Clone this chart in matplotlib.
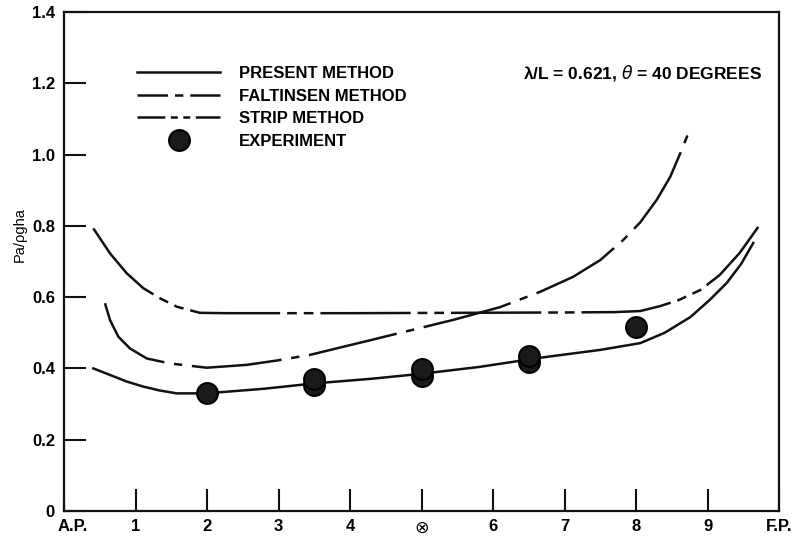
import numpy as np
import matplotlib
matplotlib.use('Agg')
import matplotlib.pyplot as plt
from matplotlib.lines import Line2D
from matplotlib.transforms import ScaledTranslation

plt.rcParams['font.family'] = ['Liberation Sans', 'DejaVu Sans']
plt.rcParams['lines.scale_dashes'] = False

# present method (solid)
present_x = [0.41, 0.64, 0.88, 1.11, 1.34, 1.58, 1.98, 2.8, 3.5, 4.3, 5.0, 5.8, 6.66, 7.5,
             8.06, 8.4, 8.76, 9.03, 9.27, 9.47, 9.64]
present_y = [0.40, 0.382, 0.363, 0.349, 0.338, 0.330, 0.330, 0.343, 0.358, 0.371, 0.385, 0.404,
             0.43, 0.452, 0.471, 0.50, 0.544, 0.592, 0.64, 0.693, 0.752]

# faltinsen method (dash-dot)
falt_x = [0.573, 0.643, 0.76, 0.923, 1.157, 1.48, 1.996, 2.555, 2.97, 3.44, 4.3, 5.44, 6.1,
          6.66, 7.12, 7.5, 7.82, 8.06, 8.29, 8.48, 8.62, 8.76]
falt_y = [0.583, 0.536, 0.489, 0.456, 0.428, 0.414, 0.402, 0.41, 0.422, 0.438, 0.48, 0.536, 0.572,
          0.615, 0.657, 0.704, 0.76, 0.81, 0.873, 0.938, 1.004, 1.074]

# strip method (dash-dot-dot)
strip_x = [0.41, 0.643, 0.877, 1.11, 1.34, 1.58, 1.9, 2.28, 4.0, 5.5, 7.0, 7.7, 8.06, 8.34,
           8.6, 8.9, 9.17, 9.45, 9.71]
strip_y = [0.793, 0.723, 0.667, 0.625, 0.597, 0.573, 0.556, 0.555, 0.555, 0.556, 0.557, 0.558,
           0.561, 0.575, 0.592, 0.62, 0.662, 0.724, 0.797]

# experiment
exp_x = [2.0, 3.5, 3.5, 5.0, 5.0, 6.5, 6.5, 8.0]
exp_y = [0.331, 0.354, 0.37, 0.378, 0.397, 0.418, 0.434, 0.516]

xticks = [0, 1, 2, 3, 4, 5, 6, 7, 8, 9, 10]
xlabels = ['A.P.', '1', '2', '3', '4', '\u2297', '6', '7', '8', '9', 'F.P.']
yticks = [0, 0.2, 0.4, 0.6, 0.8, 1.0, 1.2, 1.4]
ylabels = ['0', '0.2', '0.4', '0.6', '0.8', '1.0', '1.2', '1.4']

col = '#111111'
lw = 1.8
falt_dash = (0, (65, 7, 6, 7))
strip_dash = (0, (65, 5, 7, 5, 7, 5))

fig = plt.figure(figsize=(8.01, 5.36), dpi=100)
ax = fig.add_axes([64/801, 1-511/536, 715/801, 499/536])

ax.plot(present_x, present_y, color=col, lw=lw)
ax.plot(falt_x, falt_y, color=col, lw=lw, linestyle=falt_dash)
ax.plot(strip_x, strip_y, color=col, lw=lw, linestyle=strip_dash)
ax.plot(exp_x, exp_y, linestyle='none', marker='o', markersize=15,
        markerfacecolor='#1a1a1a', markeredgecolor='black', markeredgewidth=1.5, zorder=3)

ax.set_xlim(0, 10)
ax.set_ylim(0, 1.4)
ax.set_xticks(xticks)
ax.set_xticklabels(xlabels)
ax.set_yticks(yticks)
ax.set_yticklabels(ylabels)
ax.tick_params(direction='in', length=16, width=1.5, labelsize=12, color=col)
ax.tick_params(axis='y', pad=6.5)
ax.tick_params(axis='x', pad=6)
for lab in ax.get_xticklabels() + ax.get_yticklabels():
    lab.set_fontweight('bold')
mid = ax.get_xticklabels()[5]
mid.set_family('DejaVu Sans')
mid.set_fontsize(12.5)
mid.set_fontweight('normal')
ap = ax.get_xticklabels()[0]
ap.set_transform(ap.get_transform() + ScaledTranslation(9/100, 0, fig.dpi_scale_trans))
for sp in ax.spines.values():
    sp.set_linewidth(1.6)
    sp.set_color(col)

ax.set_ylabel('Pa/\u03c1gha', fontsize=10.5)
ax.yaxis.set_label_coords(-0.052, 0.553)

ax.text(0.976, 0.878, '\u03bb/L = 0.621, $\\theta$ = 40 DEGREES', transform=ax.transAxes,
        ha='right', va='center', fontsize=12.5, fontweight='bold')

handles = [
    Line2D([], [], color=col, lw=lw),
    Line2D([], [], color=col, lw=lw, linestyle=(0, (22, 5, 6, 5))),
    Line2D([], [], color=col, lw=lw, linestyle=(0, (20, 4, 5, 4, 5, 4))),
    Line2D([], [], linestyle='none', marker='o', markersize=15,
           markerfacecolor='#1a1a1a', markeredgecolor='black', markeredgewidth=1.5),
]
labels = ['PRESENT METHOD', 'FALTINSEN METHOD', 'STRIP METHOD', 'EXPERIMENT']
leg = ax.legend(handles, labels, loc='upper left', bbox_to_anchor=(0.093, 0.905),
                frameon=False, handlelength=5.0, handletextpad=1.1, labelspacing=0.45,
                borderaxespad=0, prop={'size': 12, 'weight': 'bold'})

fig.savefig('out.png', dpi=100, facecolor='white')
